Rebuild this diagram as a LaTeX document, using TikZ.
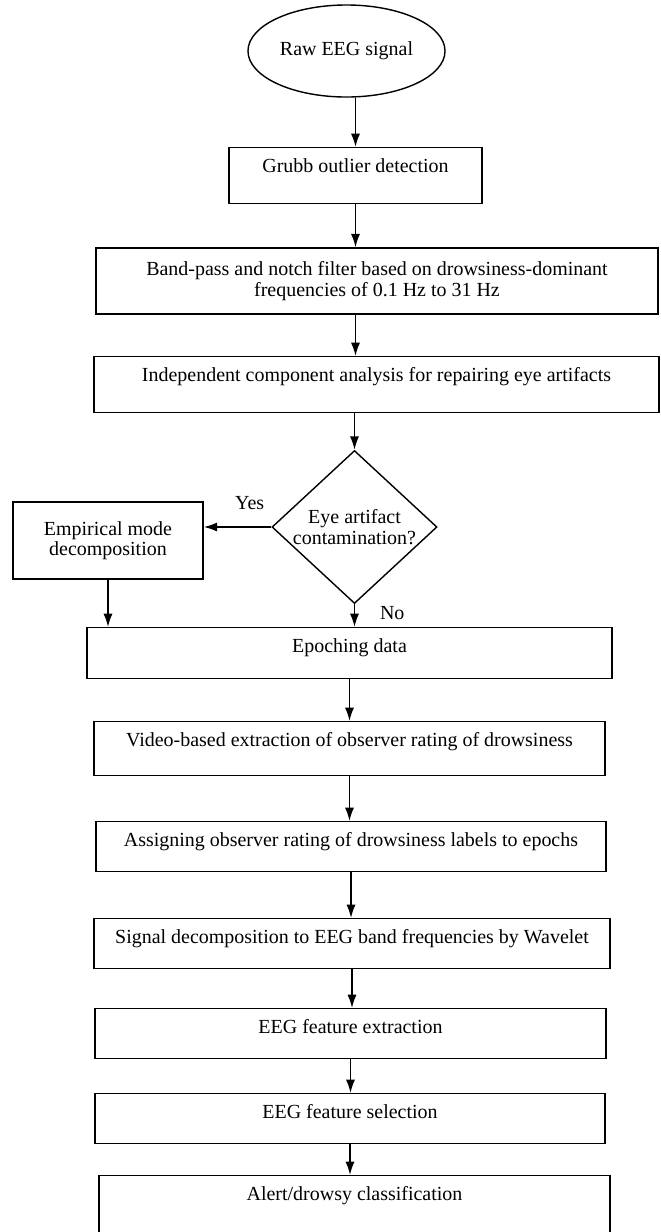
\documentclass[tikz,border=0pt]{standalone}
\usepackage{fontspec}
\setmainfont{Liberation Serif}
\usetikzlibrary{shapes.geometric,arrows.meta}
\begin{document}
\begin{tikzpicture}[x=0.025cm,y=-0.025cm,>={Latex[length=9.5pt,width=6.5pt]},
  font=\fontsize{14.2}{14.4}\selectfont,
  stepbox/.style={draw,line width=1pt,anchor=north,inner ysep=0pt,text height=0.62cm},
  flow/.style={->,line width=1.2pt}]
  \useasboundingbox (0,0) rectangle (661,1232);
  \clip (0,0) rectangle (661,1232);

  % Preprocessing chain
  \node[draw,line width=1pt,ellipse,inner sep=0pt,minimum width=4.925cm,minimum height=2.3cm] (raw) at (346.5,51) {Raw EEG signal};
  \node[stepbox,minimum width=6.325cm,text depth=0.78cm] (grubb) at (355.5,147) {Grubb outlier detection};
  \node[draw,line width=1pt,align=center,minimum width=14.05cm,minimum height=1.65cm] (band) at (377,281)
  {Band-pass and notch filter based on drowsiness-dominant\\frequencies of 0.1 Hz to 31 Hz};
  \node[stepbox,minimum width=14.125cm,text depth=0.78cm] (ica) at (376.5,356) {Independent component analysis for repairing eye artifacts};
  \draw[flow] (raw.south -| grubb.north) -- (grubb.north);
  \draw[flow] (grubb.south) -- (grubb.south |- band.north);
  \draw[flow] (grubb.south |- band.south) -- (grubb.south |- ica.north);

  % Eye artifact check
  \node[draw,line width=1pt,diamond,aspect=1.08,inner sep=0pt,minimum width=4.125cm,minimum height=3.825cm,align=center] (dia) at (354.5,527)
  {Eye artifact\\contamination?};
  \node[draw,line width=1pt,align=center,minimum width=4.75cm,minimum height=1.925cm] (emd) at (108,540.5)
  {Empirical mode\\decomposition};
  \node[stepbox,minimum width=13.125cm,text depth=0.655cm] (epoch) at (349.5,627) {Epoching data};
  \draw[flow] (dia.north |- ica.south) -- (dia.north);
  \draw[flow] (dia.west) -- (dia.west -| emd.east) node[pos=0.32,above=0.3cm] {Yes};
  \draw[flow] (emd.south) -- (emd.south |- epoch.north);
  \draw[flow] (dia.south) -- (dia.south |- epoch.north) node[pos=0.4,right=0.5cm] {No};

  % Labelling and classification
  \node[stepbox,minimum width=12.775cm,text depth=0.73cm] (video) at (349.5,721) {Video-based extraction of observer rating of drowsiness};
  \node[stepbox,minimum width=12.75cm,text depth=0.63cm] (assign) at (351,821) {Assigning observer rating of drowsiness labels to epochs};
  \node[stepbox,minimum width=12.9cm,text depth=0.63cm] (signal) at (352,918) {Signal decomposition to EEG band frequencies by Wavelet};
  \node[stepbox,minimum width=12.775cm,text depth=0.63cm] (extract) at (350.5,1008) {EEG feature extraction};
  \node[stepbox,minimum width=12.75cm,text depth=0.63cm] (select) at (350,1093) {EEG feature selection};
  \node[stepbox,minimum width=12.775cm,text depth=1.2cm] (alert) at (354.5,1175) {Alert/drowsy classification};
  \draw[flow] (video.north |- epoch.south) -- (video.north);
  \foreach \a/\b in {video/assign,assign/signal,signal/extract,extract/select,select/alert}
    \draw[flow] (\a.south) -- (\a.south |- \b.north);
\end{tikzpicture}
\end{document}
